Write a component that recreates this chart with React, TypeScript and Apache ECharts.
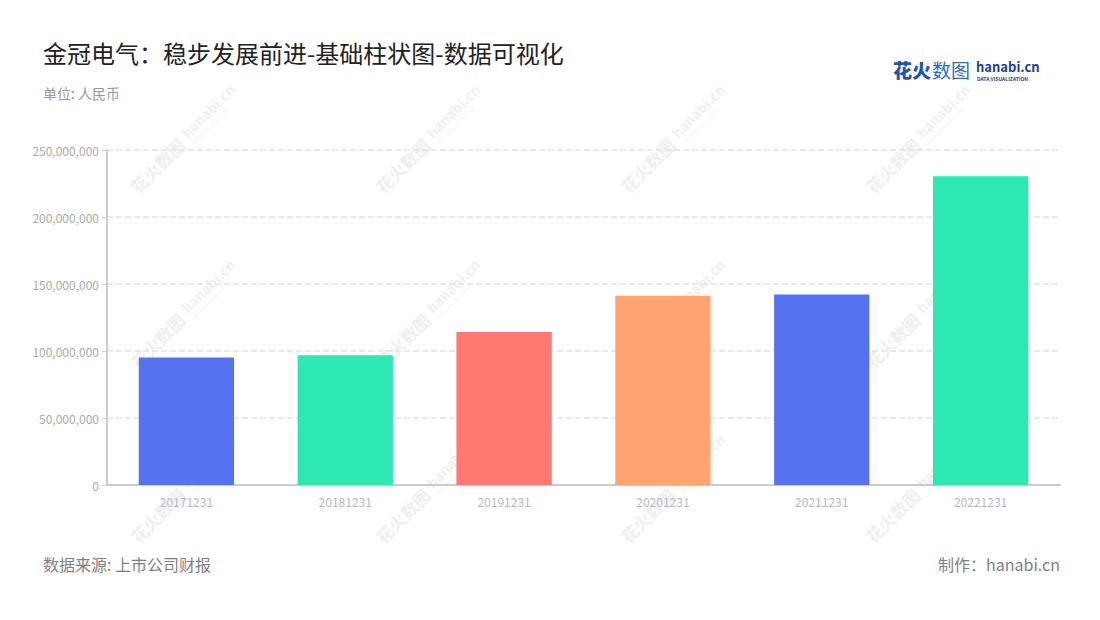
import React, { useEffect, useRef } from "react";
import * as echarts from "echarts";

const categories = ["20171231", "20181231", "20191231", "20201231", "20211231", "20221231"];
const values = [95100000, 96800000, 114200000, 141300000, 142100000, 230400000];
const barColors = ["#5672EE", "#2EE8B2", "#FF7872", "#FFA372", "#5672EE", "#2EE8B2"];
const yTicks = [0, 50000000, 100000000, 150000000, 200000000, 250000000];

const FONT = "'Noto Sans CJK SC', 'Noto Sans', sans-serif";

const wmCols = [183, 428, 673, 918];
const wmRows = [140, 315, 490];

function watermark(cx: number, cy: number) {
  const fill = "rgba(190,190,190,0.25)";
  return {
    type: "group",
    x: cx,
    y: cy,
    rotation: Math.PI / 4,
    silent: true,
    z: 0,
    children: [
      {
        type: "text",
        x: -70,
        y: 0,
        style: { text: "花火数图", font: `bold 17px ${FONT}`, fill, textVerticalAlign: "middle" },
      },
      {
        type: "text",
        x: 4,
        y: -3,
        style: { text: "hanabi.cn", font: `bold 14px ${FONT}`, fill, textVerticalAlign: "middle" },
      },
      {
        type: "text",
        x: 5,
        y: 9,
        style: { text: "DATA VISUALIZATION", font: `5px ${FONT}`, fill, textVerticalAlign: "middle" },
      },
    ],
  };
}

export default function App() {
  const ref = useRef<HTMLDivElement>(null);
  useEffect(() => {
    if (!ref.current) return;
    const chart = echarts.init(ref.current, undefined, { renderer: "svg" });
    const wms: any[] = [];
    wmRows.forEach((r) => wmCols.forEach((c) => wms.push(watermark(c, r))));
    chart.setOption({
      animation: false,
      backgroundColor: "#ffffff",
      grid: { left: 107, right: 40, top: 150, bottom: 135 },
      xAxis: {
        type: "category",
        data: categories,
        axisLine: { lineStyle: { color: "#cccccc", width: 2 } },
        axisTick: { alignWithLabel: true, lineStyle: { color: "#bbbbbb" } },
        axisLabel: { color: "#b4b8c8", fontSize: 12, margin: 10, fontFamily: FONT },
      },
      yAxis: {
        type: "value",
        min: 0,
        max: 250000000,
        interval: 50000000,
        axisLine: { show: true, lineStyle: { color: "#cccccc", width: 2 } },
        axisTick: { show: true, length: 5, lineStyle: { color: "#cccccc" } },
        axisLabel: {
          color: "#aaaaaa",
          fontSize: 12,
          margin: 8,
          fontFamily: FONT,
          formatter: (v: number) => (yTicks.includes(v) ? v.toLocaleString("en-US") : ""),
        },
        splitLine: { lineStyle: { type: "dashed", color: "#e2e2e2", width: 1.5 } },
      },
      series: [
        {
          type: "bar",
          barWidth: "60%",
          data: values.map((v, i) => ({ value: v, itemStyle: { color: barColors[i] } })),
          z: 2,
        },
      ],
      graphic: [
        ...wms,
        {
          type: "text",
          left: 43,
          top: 40,
          style: { text: "金冠电气：稳步发展前进-基础柱状图-数据可视化", font: `normal 24px ${FONT}`, fill: "#222222" },
        },
        {
          type: "text",
          left: 43,
          top: 86,
          style: { text: "单位: 人民币", font: `14px ${FONT}`, fill: "#999999" },
        },
        {
          type: "text",
          left: 43,
          top: 556,
          style: { text: "数据来源: 上市公司财报", font: `16px ${FONT}`, fill: "#808080" },
        },
        {
          type: "text",
          right: 40,
          top: 556,
          style: { text: "制作：hanabi.cn", font: `16px ${FONT}`, fill: "#808080" },
        },
        {
          type: "text",
          left: 893,
          top: 60,
          style: { text: "花火", font: `900 19px ${FONT}`, fill: "#1F56A8" },
        },
        {
          type: "text",
          left: 932,
          top: 60,
          style: { text: "数图", font: `19px ${FONT}`, fill: "#2F68C0" },
        },
        {
          type: "text",
          left: 976,
          top: 60,
          style: { text: "hanabi.cn", font: `bold 13px ${FONT}`, fill: "#1F3F8F" },
        },
        {
          type: "text",
          left: 977,
          top: 76,
          style: { text: "DATA VISUALIZATION", font: `bold 5px ${FONT}`, fill: "#2B3F7F" },
        },
      ],
    });
    return () => chart.dispose();
  }, []);
  return <div ref={ref} style={{ width: 1100, height: 620, margin: -8 }} />;
}
